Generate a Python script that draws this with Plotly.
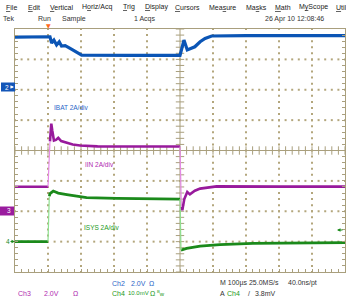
import numpy as np
import plotly.graph_objects as go

# ---------------- data (time in us, 100 us/div, trigger at t=0; currents in A, 2 A/div) -------------
ibat_t = [-100, -50, 0, 6, 11, 18, 26, 34, 41, 52, 67, 87, 102, 250, 400, 406, 412, 422, 432, 445, 461, 476, 496, 600, 900]
ibat_a = [3.31, 3.31, 3.31, 3.33, 2.92, 3.11, 2.79, 3.0, 2.72, 2.75, 2.57, 2.28, 2.12, 2.1, 2.1, 2.6, 3.11, 2.46, 2.57, 2.67, 3.0, 3.22, 3.38, 3.4, 3.4]
ibat_edges = []

iin_t = [-100, -50, 0, 6, 10, 13, 18, 24, 31, 40, 52, 75, 97, 150, 400, 404, 407, 413, 422, 430, 445, 461, 486, 511, 700, 900]
iin_a = [1.61, 1.61, 1.61, 4.6, 5.77, 5.3, 4.66, 4.7, 4.83, 4.62, 4.54, 4.4, 4.33, 4.27, 4.26, 0.3, 0.07, 0.8, 1.27, 1.11, 1.35, 1.49, 1.59, 1.64, 1.62, 1.62]
iin_edges = [2, 14]

isys_t = [-100, -50, 0, 4, 6, 16, 31, 57, 87, 117, 208, 390, 400, 403, 420, 461, 521, 621, 773, 900]
isys_a = [0.0, 0.0, 0.0, 3.0, 3.16, 3.33, 3.2, 3.1, 2.98, 2.9, 2.85, 2.8, 2.8, -0.56, -0.45, -0.30, -0.2, -0.12, -0.08, -0.06]
isys_edges = [2, 12]

ch_offsets = {"ch2": 2.08, "ch3": -2.0, "ch4": -3.0}   # ground position in divisions
amps_per_div = 2.0

# ---------------- geometry ----------------
W, H = 346, 298
L, R, T, B = 15, 1, 29, 26
PW, PH = W - L - R, H - T - B


def px_x(p):
    return (p - L) / PW


def px_y(p):
    return (H - B - p) / PH


BORDER = "#a99f7d"
GRID = "#b3a67c"
BLUE = "#0b55b5"
MAG = "#981a9c"
MAG_L = "#e58ae5"
GRN = "#1b8a1b"
GRN_L = "#8fe08f"
FONT = "Liberation Sans"
SYM = "DejaVu Sans"

fig = go.Figure()


def split(t, a, edges):
    mt, ma, et, ea = [], [], [], []
    for i in range(len(t)):
        mt.append(t[i]); ma.append(a[i])
        if i in edges:
            mt.append(None); ma.append(None)
            et += [t[i], t[i + 1], None]
            ea += [a[i], a[i + 1], None]
    return mt, ma, et, ea


# graticule dots (dotted grid lines at every minor position)
minor_x = np.arange(-100, 901, 20)
minor_y = np.round(np.arange(-4, 4.001, 0.2), 6)
gx, gy = [], []
for yv in range(-3, 4):
    if yv == 0:
        continue
    gx += list(minor_x); gy += [yv] * len(minor_x)
for xv in range(0, 900, 100):
    if xv == 400:
        continue
    gx += [xv] * len(minor_y); gy += list(minor_y)
fig.add_trace(go.Scatter(x=gx, y=gy, mode="markers", hoverinfo="skip",
                         marker=dict(symbol="square", size=2, color=GRID, line=dict(width=0))))

# centre-line ticks and top ruler
fig.add_trace(go.Scatter(x=minor_x, y=np.zeros_like(minor_x), mode="markers",
                         marker=dict(symbol="line-ns", size=6, line=dict(color=BORDER, width=1)),
                         hoverinfo="skip"))
fig.add_trace(go.Scatter(x=np.full_like(minor_y, 400), y=minor_y, mode="markers",
                         marker=dict(symbol="line-ew", size=6, line=dict(color=BORDER, width=1)),
                         hoverinfo="skip"))
fig.add_trace(go.Scatter(x=minor_x, y=np.full(len(minor_x), 4.07), mode="markers", cliponaxis=False,
                         marker=dict(symbol="line-ns", size=4, line=dict(color="#999999", width=1)),
                         hoverinfo="skip"))

channels = [
    (ibat_t, ibat_a, ibat_edges, "y2", BLUE, BLUE, 3.2),
    (iin_t, iin_a, iin_edges, "y3", MAG, MAG_L, 2.6),
    (isys_t, isys_a, isys_edges, "y4", GRN, GRN_L, 2.8),
]
for t, a, edges, ax, col, ecol, w in channels:
    mt, ma, et, ea = split(t, a, edges)
    fig.add_trace(go.Scatter(x=mt, y=ma, yaxis=ax, mode="lines", line=dict(color=col, width=w),
                             connectgaps=False, hoverinfo="skip"))
    if et:
        fig.add_trace(go.Scatter(x=et, y=ea, yaxis=ax, mode="lines", line=dict(color=ecol, width=1.2),
                                 connectgaps=False, hoverinfo="skip"))


def amp_range(off):
    return [(-4 - off) * amps_per_div, (4 - off) * amps_per_div]


fig.update_layout(
    width=W, height=H,
    margin=dict(l=L, r=R, t=T, b=B, pad=0),
    paper_bgcolor="white", plot_bgcolor="white",
    showlegend=False,
    font=dict(family=FONT, size=7, color="#222222"),
    xaxis=dict(range=[-100, 900], dtick=100, tick0=0, showgrid=False,
               zeroline=False, showline=True, linecolor=BORDER, linewidth=1, mirror=True,
               ticks="inside", ticklen=3, tickcolor=BORDER, showticklabels=False,
               minor=dict(dtick=20, ticks="inside", ticklen=3, tickcolor=BORDER, showgrid=False)),
    yaxis=dict(range=[-4, 4], dtick=1, tick0=0, showgrid=False,
               zeroline=False, showline=True, linecolor=BORDER, linewidth=1, mirror="ticks",
               ticks="inside", ticklen=3, tickcolor=BORDER, showticklabels=False,
               minor=dict(dtick=0.2, ticks="inside", ticklen=3, tickcolor=BORDER, showgrid=False)),
    yaxis2=dict(range=amp_range(ch_offsets["ch2"]), overlaying="y", visible=False),
    yaxis3=dict(range=amp_range(ch_offsets["ch3"]), overlaying="y", visible=False),
    yaxis4=dict(range=amp_range(ch_offsets["ch4"]), overlaying="y", visible=False),
)

# centre lines
fig.add_shape(type="line", xref="x", yref="y", x0=-100, x1=900, y0=0, y1=0, line=dict(color=BORDER, width=1),
              layer="below")
fig.add_shape(type="line", xref="x", yref="y", x0=400, x1=400, y0=-4, y1=4, line=dict(color=BORDER, width=1),
              layer="below")

anns = []


def txt(s, x, y, color="#222222", size=7, xanchor="left", family=FONT):
    anns.append(dict(text=s, x=px_x(x), y=px_y(y), xref="paper", yref="paper", showarrow=False,
                     xanchor=xanchor, yanchor="middle", font=dict(family=family, size=size, color=color)))


def arrow(x_head, y, dx, color):
    # dx: tail offset in px (positive -> tail to the right of the head)
    anns.append(dict(text="", x=px_x(x_head), y=px_y(y), xref="paper", yref="paper", showarrow=True,
                     ax=dx, ay=0, axref="pixel", ayref="pixel", arrowhead=2, arrowsize=0.7,
                     arrowwidth=1, arrowcolor=color, standoff=0, startstandoff=0))


U = '<span style="text-decoration:underline">%s</span>'
menu = [("%sile" % (U % "F"), 4), ("%sdit" % (U % "E"), 26), ("%sertical" % (U % "V"), 48),
        ("H%sriz/Acq" % (U % "o"), 80), ("%srig" % (U % "T"), 121), ("%sisplay" % (U % "D"), 143),
        ("%sursors" % (U % "C"), 173), ("Mea%sure" % (U % "s"), 207), ("Ma%sks" % (U % "s"), 244),
        ("%sath" % (U % "M"), 273), ("M%sScope" % (U % "y"), 297), ("%stili" % (U % "U"), 334)]
for s, x in menu:
    txt(s, x, 7.5)

for s, x in [("Tek", 1), ("Run", 36), ("Sample", 60), ("1 Acqs", 132), ("26 Apr 10 12:08:46", 263)]:
    txt(s, x, 19, color="#333333")

# in-graticule labels
txt("IBAT 2A/div", 52, 107, color="#2a66c8", size=6.5)
txt("IIN 2A/div", 83, 164, color="#b02ab0", size=6.5)
txt("ISYS 2A/div", 82, 228, color="#239a23", size=6.5)

# channel ground markers
fig.add_shape(type="rect", xref="paper", yref="paper", x0=px_x(1), x1=px_x(15), y0=px_y(91.5), y1=px_y(82.5),
              fillcolor="#1456b8", line=dict(width=0))
txt("2", 2.5, 87, color="white", size=6.5)
arrow(14, 87, -5, "white")
fig.add_shape(type="rect", xref="paper", yref="paper", x0=px_x(0), x1=px_x(14), y0=px_y(215.5), y1=px_y(206.5),
              fillcolor="#9a1c9e", line=dict(width=0))
txt("3", 5, 211, color="white", size=6.5)
txt("4", 4, 241.5, color=GRN, size=6.5)
arrow(15, 241.5, -6, GRN)
arrow(337, 230, 7, GRN)
txt("▼", 48, 26, color="#ff6a1a", size=6, xanchor="center", family=SYM)

# bottom readouts
for s, x, c in [("Ch2", 110, "#2a66c8"), ("2.0V", 129, "#2a66c8"), ("Ω", 147, "#2a66c8"),
                ("M 100µs 25.0MS/s", 218, "#333333"), ("40.0ns/pt", 286, "#333333")]:
    txt(s, x, 283, color=c)
for s, x, c in [("Ch3", 16, "#b02ab0"), ("2.0V", 42, "#b02ab0"), ("Ω", 71, "#b02ab0"),
                ("Ch4", 110, "#239a23"), ("Ω", 148, "#239a23"),
                ("A", 218, "#333333"), ("Ch4", 225, "#239a23"), ("/", 246, "#333333"), ("3.8mV", 253, "#333333")]:
    txt(s, x, 293, color=c)
txt("10.0mV", 126, 293, color="#239a23", size=6)
txt("<sup>B</sup>w", 155, 293, color="#239a23", size=6)

fig.update_layout(annotations=anns)
fig.write_html("out.html")
